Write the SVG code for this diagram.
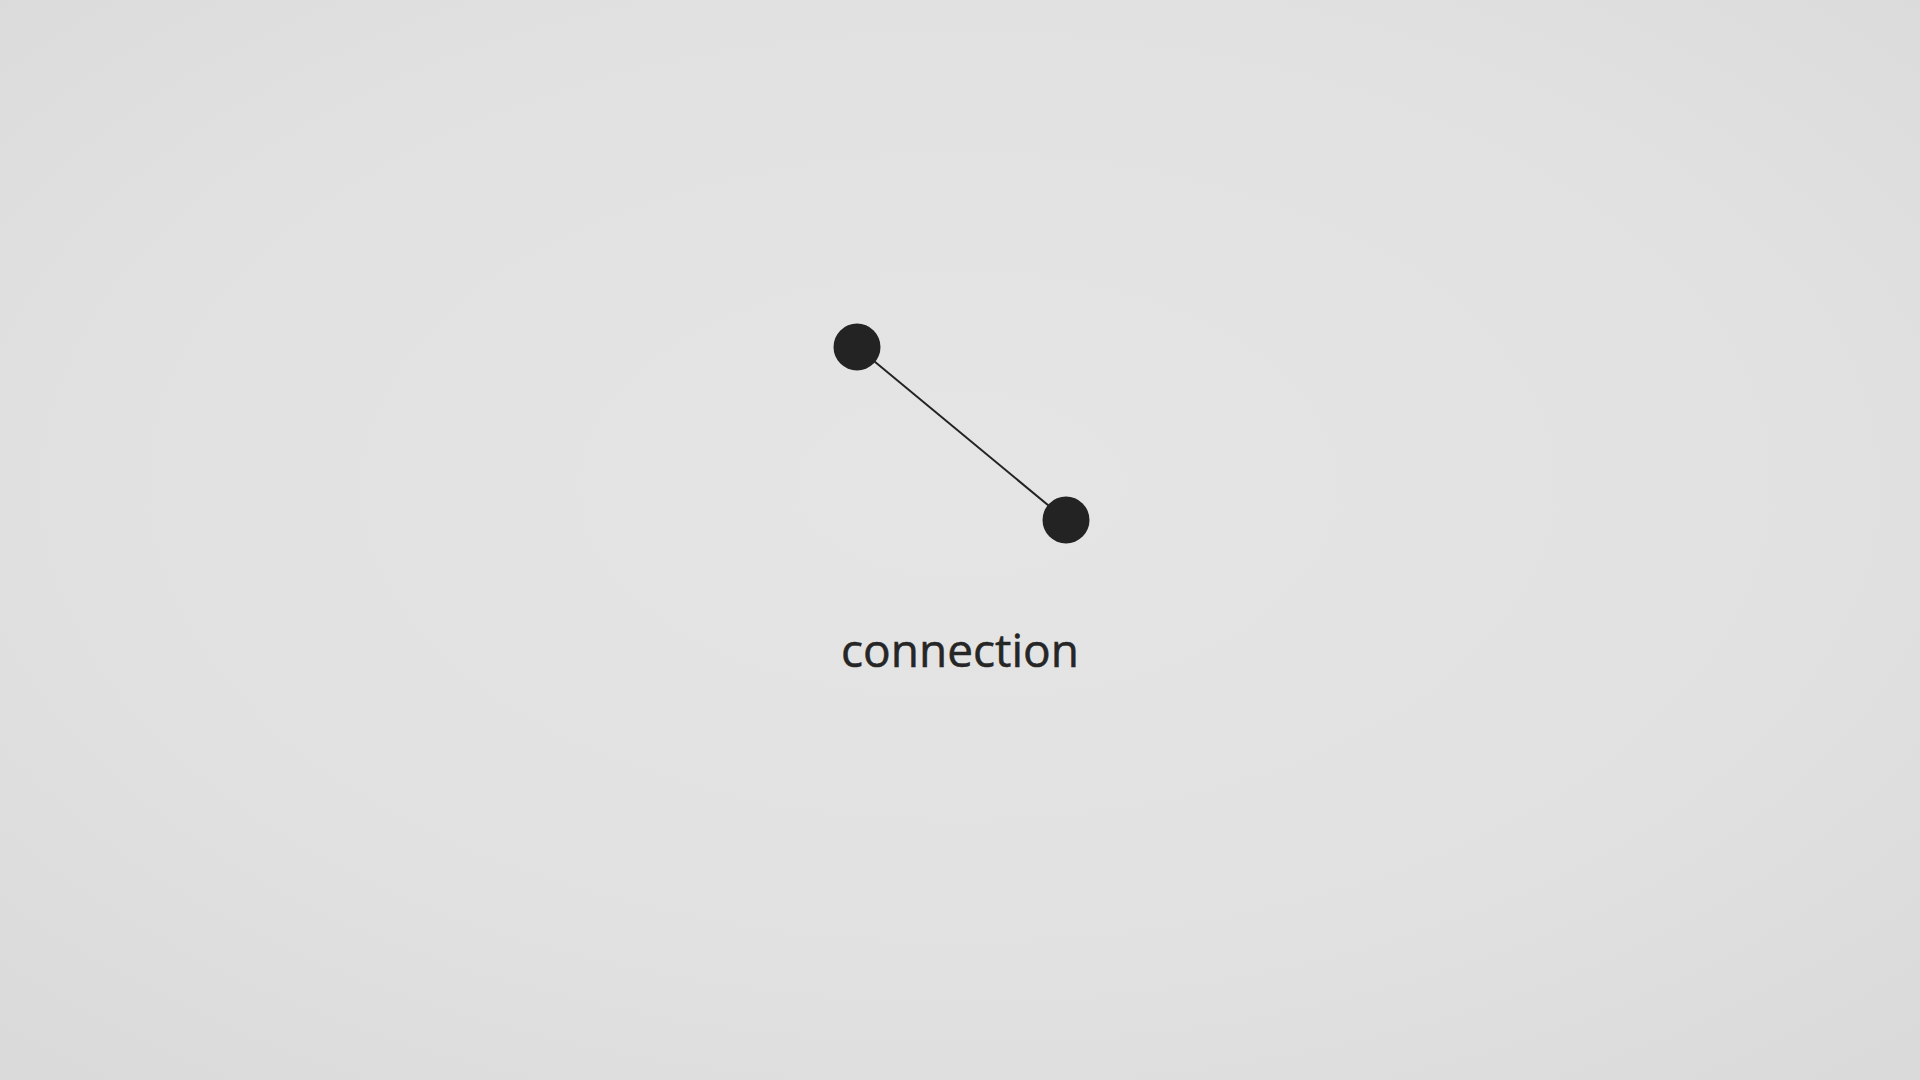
<svg xmlns="http://www.w3.org/2000/svg" width="1920" height="1080" viewBox="0 0 1920 1080">
  <defs>
    <radialGradient id="bg" cx="50%" cy="45%" r="75%">
      <stop offset="0" stop-color="#e5e5e5"/>
      <stop offset="0.6" stop-color="#e1e1e1"/>
      <stop offset="1" stop-color="#d9d9d9"/>
    </radialGradient>
  </defs>
  <style>
    .node { fill: #232323; }
    .edge { stroke: #232323; stroke-width: 2; fill: none; }
    .label { font-family: "Open Sans", "Noto Sans", sans-serif; font-size: 45px; fill: #262626; stroke: #262626; stroke-width: 0.5; }
  </style>
  <rect width="1920" height="1080" fill="url(#bg)"/>
  <g id="connectors">
    <line class="edge" x1="857" y1="347" x2="1066" y2="520"/>
  </g>
  <g id="node-a">
    <circle class="node" cx="857" cy="347" r="23.5"/>
  </g>
  <g id="node-b">
    <circle class="node" cx="1066" cy="520" r="23.5"/>
  </g>
  <g id="label">
    <text class="label" x="960" y="667" text-anchor="middle" textLength="238" lengthAdjust="spacingAndGlyphs">connection</text>
  </g>
</svg>
